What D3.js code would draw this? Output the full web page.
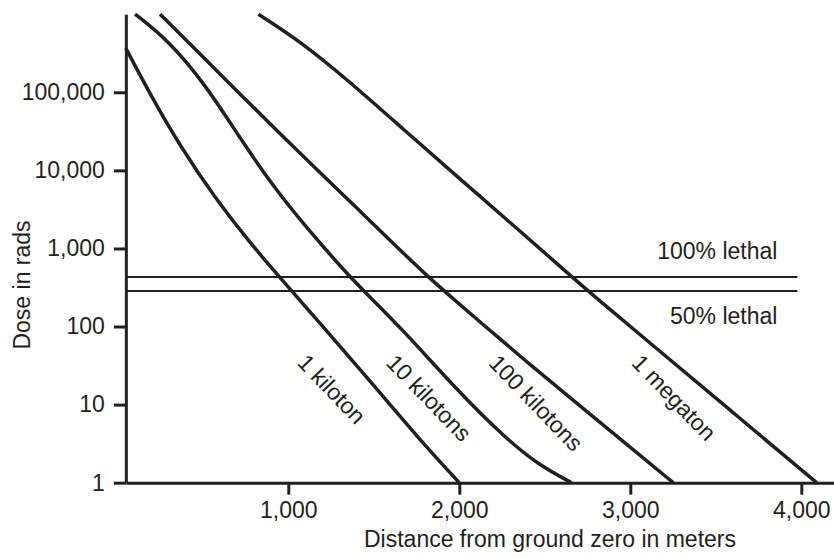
<!DOCTYPE html>
<html>
<head>
<meta charset="utf-8">
<script src="https://cdn.jsdelivr.net/npm/d3@7"></script>
<style>
  body { margin: 0; background: #ffffff; }
  text { font-family: "Liberation Sans", Arial, Helvetica, sans-serif; fill: #231f20; }
</style>
</head>
<body>
<svg id="chart" width="834" height="559"></svg>
<script>
// ---- Data ----
const distanceTicks = [1000, 2000, 3000, 4000];
const doseTicks = [1, 10, 100, 1000, 10000, 100000];

const kt1Distance = [50, 191, 367, 571, 776, 951, 1185, 1478, 1770, 2000];
const kt1Dose     = [366000, 95100, 20500, 4430, 1175, 425, 111, 20.1, 3.52, 1];

const kt10Distance = [104, 296, 513, 717, 905, 1127, 1361, 1448, 1682, 1975, 2267, 2472, 2657];
const kt10Dose     = [1000000, 467700, 127700, 26000, 6500, 1625, 431, 277, 85.1, 16.3, 3.74, 1.64, 1];

const kt100Distance = [250, 484, 717, 951, 1185, 1419, 1653, 1817, 1905, 2121, 2413, 2706, 2998, 3251];
const kt100Dose     = [1000000, 309400, 95100, 29650, 9390, 3018, 955, 437, 294, 114.3, 32.6, 9.6, 2.87, 1];

const mt1Distance = [825, 1068, 1361, 1671, 2004, 2355, 2659, 2753, 3115, 3583, 4090];
const mt1Dose     = [1000000, 454000, 135500, 33900, 7750, 1673, 431, 285, 61.5, 8.53, 1];

const yieldLabels = ["1 kiloton", "10 kilotons", "100 kilotons", "1 megaton"];
const lethalLabels = ["100% lethal", "50% lethal"];
const lethalDose = [431, 285];
const lethalExtent = [50, 3977];

// ---- Layout ----
const ink = "#231f20";
const fontSize = 23;
const svg = d3.select("#chart");
const x = d3.scaleLinear().domain([50, 4190]).range([125.85, 833.8]);
const y = d3.scaleLog().domain([1, 1e6]).range([482.7, 14.2]);

const series = [
  { name: yieldLabels[0], dist: kt1Distance, dose: kt1Dose, at: [1254, 15.8] },
  { name: yieldLabels[1], dist: kt10Distance, dose: kt10Dose, at: [1823, 12.2] },
  { name: yieldLabels[2], dist: kt100Distance, dose: kt100Dose, at: [2449, 10.5] },
  { name: yieldLabels[3], dist: mt1Distance, dose: mt1Dose, at: [3256, 12.3] }
];

// Lethal reference lines
lethalDose.forEach((d, i) => {
  svg.append("line")
    .attr("x1", x(lethalExtent[0])).attr("x2", x(lethalExtent[1]))
    .attr("y1", y(d)).attr("y2", y(d))
    .attr("stroke", ink).attr("stroke-width", 2.2);
  svg.append("text")
    .attr("x", x(lethalExtent[1]) - 20)
    .attr("y", i === 0 ? y(d) - 18 : y(d) + 33)
    .attr("text-anchor", "end")
    .attr("font-size", fontSize)
    .text(lethalLabels[i]);
});

// Curves
const line = d3.line()
  .x(d => x(d[0]))
  .y(d => y(d[1]))
  .curve(d3.curveBasis);

series.forEach(s => {
  const pts = s.dist.map((v, i) => [v, s.dose[i]]);
  svg.append("path")
    .datum(pts)
    .attr("d", line)
    .attr("fill", "none")
    .attr("stroke", ink)
    .attr("stroke-width", 3.5);
  svg.append("text")
    .attr("transform", `translate(${x(s.at[0])},${y(s.at[1])}) rotate(46)`)
    .attr("text-anchor", "middle")
    .attr("dominant-baseline", "central")
    .attr("font-size", fontSize)
    .text(s.name);
});

// Axes
const yAxis = svg.append("g")
  .attr("transform", `translate(${x(50)},0)`)
  .call(d3.axisLeft(y).tickValues(doseTicks).tickFormat(d3.format(","))
    .tickSize(12).tickPadding(9).tickSizeOuter(0));
const xAxis = svg.append("g")
  .attr("transform", `translate(0,${y(1)})`)
  .call(d3.axisBottom(x).tickValues(distanceTicks).tickFormat(d3.format(","))
    .tickSize(12).tickPadding(7).tickSizeOuter(0));

[yAxis, xAxis].forEach(g => {
  g.selectAll("path.domain").attr("stroke", ink).attr("stroke-width", 3);
  g.selectAll(".tick line").attr("stroke", ink).attr("stroke-width", 3);
  g.selectAll(".tick text").attr("font-size", fontSize).attr("fill", ink)
    .attr("font-family", "'Liberation Sans', Arial, Helvetica, sans-serif");
});

// Axis titles
svg.append("text")
  .attr("x", 550).attr("y", 547)
  .attr("text-anchor", "middle")
  .attr("font-size", fontSize)
  .text("Distance from ground zero in meters");

svg.append("text")
  .attr("transform", "translate(30,285) rotate(-90)")
  .attr("text-anchor", "middle")
  .attr("font-size", fontSize)
  .text("Dose in rads");
</script>
</body>
</html>
